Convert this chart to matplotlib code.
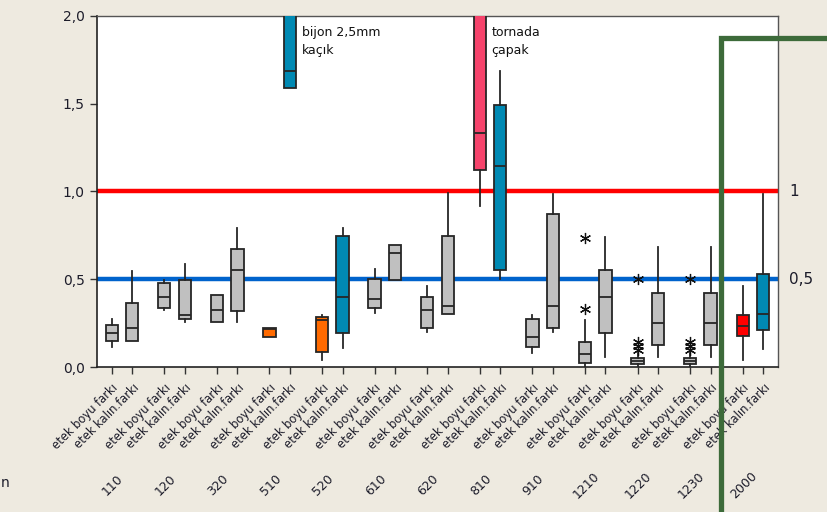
import matplotlib
matplotlib.use("Agg")
import matplotlib.pyplot as plt
from matplotlib.patches import Rectangle
import matplotlib.transforms as mtransforms

# Groups and the two measurements inside each group
groups = ["110", "120", "320", "510", "520", "610", "620", "810", "910",
          "1210", "1220", "1230", "2000"]
measures = ["etek boyu farkı", "etek kalın.farkı"]

# Box statistics, one entry per box (group order, boy then kalınlık)
whislo = [0.115, 0.150, 0.324, 0.256, 0.258, 0.258, 0.170, 1.590, 0.040, 0.106,
          0.309, 0.496, 0.201, 0.300, 0.920, 0.504, 0.078, 0.201, 0.000, 0.059,
          0.000, 0.059, 0.000, 0.059, 0.040, 0.100]
q1 = [0.150, 0.150, 0.335, 0.273, 0.258, 0.320, 0.170, 1.590, 0.087, 0.195,
      0.337, 0.496, 0.220, 0.301, 1.120, 0.551, 0.115, 0.220, 0.025, 0.195,
      0.017, 0.125, 0.017, 0.125, 0.178, 0.212]
med = [0.195, 0.222, 0.400, 0.297, 0.322, 0.551, 0.215, 1.686, 0.267, 0.400,
       0.390, 0.648, 0.322, 0.348, 1.333, 1.148, 0.172, 0.347, 0.074, 0.400,
       0.035, 0.248, 0.035, 0.248, 0.233, 0.303]
q3 = [0.239, 0.365, 0.479, 0.496, 0.409, 0.674, 0.225, 2.300, 0.286, 0.746,
      0.504, 0.693, 0.400, 0.746, 2.300, 1.492, 0.276, 0.873, 0.140, 0.551,
      0.053, 0.424, 0.053, 0.424, 0.294, 0.532]
whishi = [0.271, 0.545, 0.494, 0.589, 0.409, 0.794, 0.225, 2.400, 0.295, 0.794,
          0.561, 0.693, 0.462, 0.990, 2.500, 1.684, 0.295, 0.987, 0.267, 0.741,
          0.080, 0.684, 0.080, 0.684, 0.462, 0.987]
outliers = [[], [], [], [], [], [], [], [], [], [],
            [], [], [], [], [], [], [], [], [0.328, 0.737], [],
            [0.095, 0.117, 0.140, 0.504], [], [0.095, 0.117, 0.140, 0.504], [], [], []]

GRAY, ORANGE, BLUE, PINK, RED = "#c0c0c0", "#ff6a00", "#0089b3", "#f5436b", "#ff0000"
face_colors = [GRAY, GRAY, GRAY, GRAY, GRAY, GRAY, ORANGE, BLUE, ORANGE, BLUE,
               GRAY, GRAY, GRAY, GRAY, PINK, BLUE, GRAY, GRAY, GRAY, GRAY,
               GRAY, GRAY, GRAY, GRAY, RED, BLUE]

# Reference limits drawn as horizontal lines
limits = [1.0, 0.5]
limit_labels = ["1", "0,5"]
limit_colors = ["#ff0000", "#0063cc"]

yticks = [0.0, 0.5, 1.0, 1.5, 2.0]
ytick_labels = ["0,0", "0,5", "1,0", "1,5", "2,0"]

# Notes written next to the tall boxes: (box index, text)
notes = [(7, "bijon 2,5mm\nkaçık"), (14, "tornada\nçapak")]

BG = "#eeeae0"
EDGE = "#262626"
TEXT = "#1c1c2a"

fig = plt.figure(figsize=(8.27, 5.12), dpi=100, facecolor=BG)
ax = fig.add_axes([0.1173, 0.2832, 0.8234, 0.6856])
ax.set_facecolor("white")

offset = 0.195
positions = []
for gi in range(len(groups)):
    positions += [gi - offset, gi + offset]

stats = []
for i in range(len(positions)):
    stats.append(dict(whislo=whislo[i], q1=q1[i], med=med[i], q3=q3[i],
                      whishi=whishi[i], fliers=outliers[i]))

for y, c in zip(limits, limit_colors):
    ax.axhline(y, color=c, lw=3.2, zorder=1)

bp = ax.bxp(stats, positions=positions, widths=0.235, patch_artist=True,
            showcaps=False, manage_ticks=False,
            boxprops=dict(edgecolor=EDGE, linewidth=1.3),
            medianprops=dict(color=EDGE, linewidth=1.3),
            whiskerprops=dict(color=EDGE, linewidth=1.3),
            flierprops=dict(marker=(6, 2, 0), markersize=8, markeredgecolor="#111111",
                            markeredgewidth=0.9, linestyle="none"))
for patch, fc in zip(bp["boxes"], face_colors):
    patch.set_facecolor(fc)
    patch.set_zorder(3)
for artist_list in (bp["medians"], bp["whiskers"], bp["fliers"]):
    for a in artist_list:
        a.set_zorder(4)

ax.set_xlim(-0.475, len(groups) - 1 + 0.475)
ax.set_ylim(0, 2.0)
ax.set_yticks(yticks)
ax.set_yticklabels(ytick_labels, fontsize=10, color=TEXT)

ax.set_xticks(positions)
ax.set_xticklabels(measures * len(groups), fontsize=8.3, color=TEXT,
                   rotation=45, ha="right", va="top", rotation_mode="anchor")
shift = mtransforms.ScaledTranslation(2 / 72, 0, fig.dpi_scale_trans)
for lbl in ax.get_xticklabels():
    lbl.set_transform(lbl.get_transform() + shift)

ax.tick_params(axis="both", direction="out", length=5, width=1.0, color="#333333")
ax.tick_params(axis="x", pad=5)
ax.tick_params(axis="y", pad=4)

for side in ("left", "bottom"):
    ax.spines[side].set_color("#222222")
    ax.spines[side].set_linewidth(1.2)
for side in ("top", "right"):
    ax.spines[side].set_color("#555555")
    ax.spines[side].set_linewidth(1.0)

# Group names under the measurement labels
for gi, g in enumerate(groups):
    ax.annotate(g, xy=(gi, 0), xycoords=("data", "axes fraction"),
                xytext=(-6.5, -85), textcoords="offset points",
                rotation=45, ha="center", va="center", fontsize=9, color=TEXT)

# Limit values on the right margin
for y, t in zip(limits, limit_labels):
    ax.annotate(t, xy=(1, y), xycoords=("axes fraction", "data"),
                xytext=(8, 0), textcoords="offset points",
                ha="left", va="center", fontsize=11, color=TEXT)

# Notes beside the tall boxes
for bi, t in notes:
    ax.annotate(t, xy=(positions[bi], 2.0), xycoords="data",
                xytext=(8.5, -7), textcoords="offset points",
                ha="left", va="top", fontsize=9, color="#111111", linespacing=1.55)

fig.text(0.001, 1 - 483 / 512, "n", ha="left", va="center", fontsize=10, color=TEXT)

# Highlight frame around the last group
frame = Rectangle((720.5 / 827, -0.2), 0.5, 1 - 37.5 / 512 + 0.2,
                  transform=fig.transFigure, fill=False,
                  edgecolor="#3d6b3a", linewidth=3.8, zorder=20, clip_on=False)
fig.add_artist(frame)

fig.savefig("out.png", dpi=100, facecolor=BG)
